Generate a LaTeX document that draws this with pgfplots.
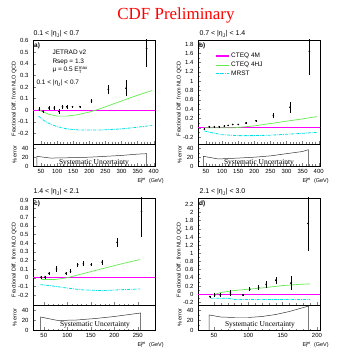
\documentclass[border=0pt]{standalone}
\usepackage{fontspec}
\setmainfont{Liberation Sans}
\newfontfamily\serif{Liberation Serif}
\usepackage{pgfplots}
\pgfplotsset{compat=1.18}

\definecolor{cteqm}{rgb}{1,0,1}
\definecolor{cteqhj}{RGB}{100,235,80}
\definecolor{mrst}{RGB}{0,225,230}

\newcommand{\tk}{\fontsize{6}{7}\selectfont}
\newcommand{\lab}{\fontsize{5.5}{6.5}\selectfont}
\newcommand{\txt}{\fontsize{6.5}{7.5}\selectfont}
\newcommand{\etaj}{|η\textsubscript{J}|}
\newcommand{\et}{E\textsuperscript{jet}\kern-0.95em\textsubscript{T}\kern0.75em{} (GeV)}

\pgfplotsset{
  cdf/.style={scale only axis, width=122bp, axis line style={line width=0.6pt},
    tick align=inside, xtick pos=left, ytick pos=left,
    major tick length=3bp, minor tick length=1.5bp,
    tick style={line width=0.4pt},
    ticklabel style={font=\tk}, /pgf/number format/assume math mode=true,
    yticklabel style={xshift=-1bp}},
  main/.style={cdf, xticklabels={}, minor y tick num=1, minor x tick num=4,
    ylabel={Fractional Diff. from NLO QCD},
    ylabel style={font=\lab, at={(axis description cs:-0.105,0.04)}, anchor=south west}},
  lower/.style={cdf, ymin=0, ymax=50, ytick={0,20,40}, minor y tick num=1, minor x tick num=4,
    ylabel={\% error},
    ylabel style={font=\lab, at={(axis description cs:-0.105,0.5)}, anchor=south},
    xlabel={\et},
    xlabel style={font=\lab, at={(axis description cs:1.1,0)}, anchor=north east, yshift=-8.5bp},
    xticklabel style={yshift=0.3bp}},
  pts/.style={black, only marks, mark=*, mark size=0.6bp, forget plot,
    error bars/.cd, y dir=both, y explicit, error mark=none,
    error bar style={line width=0.45pt}},
  m4/.style={cteqm, line width=1.2pt},
  hj/.style={cteqhj, line width=0.7pt},
  mr/.style={mrst, line width=0.8pt, dash pattern=on 3pt off 1pt on 0.8pt off 1pt},
  sys/.style={black!80, line width=0.5pt}
}

\begin{document}
\begin{tikzpicture}
\path[use as bounding box] (0bp,0bp) rectangle (337bp,354bp);

\node[anchor=base, text=red, font=\serif\fontsize{17}{19}\selectfont] at (176bp,334bp) {CDF Preliminary};

% ---------------- panel a ----------------
\begin{axis}[main, at={(33bp,210bp)}, anchor=south west, height=104bp,
  xmin=25.2, xmax=404, ymin=-0.29, ymax=0.605,
  xtick={50,100,...,400}, ytick={-0.2,-0.1,0,0.1,0.2,0.3,0.4,0.5,0.6}]
\addplot[m4] coordinates {(25.2,0) (404,0)};
\addplot[hj] coordinates {(45,0) (75,-0.035) (100,-0.05) (130,-0.05) (160,-0.04)
  (200,-0.015) (230,0.01) (260,0.04) (300,0.08) (350,0.13) (395,0.17)};
\addplot[mr] coordinates {(42,-0.05) (60,-0.09) (80,-0.12) (100,-0.14) (130,-0.16)
  (170,-0.17) (230,-0.17) (300,-0.16) (350,-0.145) (395,-0.13)};
\addplot[pts] coordinates {
  (45,0.01) +- (0,0.015) (57,-0.01) +- (0,0.015) (75,0.02) +- (0,0.02)
  (91,0.02) +- (0,0.015) (106,-0.01) +- (0,0.02) (117,0.03) +- (0,0.015)
  (130,0.03) +- (0,0.015) (148,0.03) +- (0,0.01) (171,0.03) +- (0,0.01)
  (207,0.08) +- (0,0.015) (259,0.18) +- (0,0.04) (314,0.19) +- (0,0.07)
  (378,0.53) +- (0,0.16)};
\end{axis}
\begin{axis}[lower, at={(33bp,188bp)}, anchor=south west, height=22bp,
  xmin=25.2, xmax=404, xtick={50,100,...,400}]
\addplot[sys] coordinates {(37,0) (37,22) (80,18) (150,19) (200,20) (250,22)
  (300,24) (350,27) (378,28) (378,0)};
\end{axis}

% ---------------- panel b ----------------
\begin{axis}[main, at={(198bp,210bp)}, anchor=south west, height=104bp,
  xmin=25.2, xmax=404, ymin=-0.35, ymax=1.886,
  xtick={50,100,...,400}, ytick={-0.2,0,0.2,0.4,0.6,0.8,1,1.2,1.4,1.6,1.8},
  legend style={at={(0.13,0.905)}, anchor=north west, draw=none, fill=none,
    font=\txt, row sep=-1.2pt, inner sep=1pt},
  legend cell align=left,
  legend image code/.code={\draw[#1] (0bp,0bp) -- (13bp,0bp);}]
\addplot[m4] coordinates {(25.2,0) (404,0)};
\addplot[hj] coordinates {(45,0) (100,0) (140,0) (200,0.04) (250,0.09) (300,0.14)
  (350,0.19) (395,0.24)};
\addplot[mr] coordinates {(45,-0.07) (70,-0.11) (100,-0.15) (150,-0.17) (200,-0.17)
  (250,-0.16) (300,-0.14) (350,-0.12) (395,-0.1)};
\legend{CTEQ 4M, CTEQ 4HJ, MRST}
\addplot[pts] coordinates {
  (45,-0.03) +- (0,0.02) (60,0.02) +- (0,0.015) (76,0.02) +- (0,0.015)
  (91,0.02) +- (0,0.015) (107,0.035) +- (0,0.015) (119,0.05) +- (0,0.015)
  (133,0.07) +- (0,0.015) (150,0.07) +- (0,0.015) (174,0.1) +- (0,0.02)
  (205,0.15) +- (0,0.025) (259,0.26) +- (0,0.06) (311,0.44) +- (0,0.12)
  (371,1.64) +- (0,0.5)};
\end{axis}
\begin{axis}[lower, at={(198bp,188bp)}, anchor=south west, height=22bp,
  xmin=25.2, xmax=404, xtick={50,100,...,400}]
\addplot[sys] coordinates {(42,0) (42,22) (88,16) (150,18) (200,20) (250,23)
  (300,28) (350,33) (368,37) (368,0)};
\end{axis}

% ---------------- panel c ----------------
\begin{axis}[main, at={(33bp,49bp)}, anchor=south west, height=107bp,
  xmin=27, xmax=286.6, ymin=-0.316, ymax=0.923,
  xtick={50,100,...,250}, ytick={-0.2,-0.1,0,0.1,0.2,0.3,0.4,0.5,0.6,0.7,0.8,0.9}]
\addplot[cteqm, line width=1pt] coordinates {(27,0) (286.6,0)};
\addplot[hj] coordinates {(45,-0.02) (75,-0.02) (100,0) (150,0.07) (200,0.14)
  (230,0.18) (255,0.21)};
\addplot[mr] coordinates {(43,-0.08) (75,-0.1) (100,-0.12) (130,-0.14) (175,-0.15)
  (210,-0.14) (255,-0.13)};
\addplot[pts] coordinates {
  (44,0.005) +- (0,0.015) (52,0.005) +- (0,0.015) (61,0.05) +- (0,0.02)
  (77,0.1) +- (0,0.03) (97,0.05) +- (0,0.02) (107,0.075) +- (0,0.025)
  (122,0.15) +- (0,0.025) (134,0.16) +- (0,0.03) (151,0.15) +- (0,0.02)
  (174,0.18) +- (0,0.03) (206,0.41) +- (0,0.05) (258,0.77) +- (0,0.3)};
\end{axis}
\begin{axis}[lower, at={(33bp,24bp)}, anchor=south west, height=25bp,
  xmin=27, xmax=286.6, xtick={50,100,...,250}]
\addplot[sys] coordinates {(43,0) (43,26) (80,19) (120,20) (160,23) (200,27)
  (256,34) (256,0)};
\end{axis}

% ---------------- panel d ----------------
\begin{axis}[main, at={(198bp,49bp)}, anchor=south west, height=107bp,
  xmin=26.7, xmax=204.5, ymin=-0.266, ymax=2.354,
  xtick={50,100,150,200}, ytick={-0.2,0,0.2,0.4,0.6,0.8,1,1.2,1.4,1.6,1.8,2,2.2}]
\addplot[cteqm, line width=1pt] coordinates {(26.7,0) (204.5,0)};
\addplot[hj] coordinates {(48,-0.02) (60,0.04) (80,0.09) (100,0.12) (125,0.16)
  (150,0.21) (175,0.24) (190,0.25)};
\addplot[mr] coordinates {(45,-0.1) (70,-0.1) (80,-0.13) (190,-0.13)};
\addplot[pts] coordinates {
  (44,-0.06) +- (0,0.02) (51,-0.02) +- (0,0.04) (59,-0.02) +- (0,0.04)
  (74,0.03) +- (0,0.07) (92,-0.02) +- (0,0.03) (102,0.12) +- (0,0.05)
  (115,0.16) +- (0,0.06) (126,0.24) +- (0,0.08) (140,0.34) +- (0,0.08)
  (162,0.27) +- (0,0.17) (187,1.73) +- (0,0.68)};
\end{axis}
\begin{axis}[lower, at={(198bp,24bp)}, anchor=south west, height=25bp,
  xmin=26.7, xmax=204.5, xtick={50,100,150,200}]
\addplot[sys] coordinates {(43,0) (43,30) (60,26) (80,25) (100,25) (120,27)
  (140,31) (160,37) (188,48) (188,0)};
\end{axis}

% ---------------- text ----------------
\begin{scope}[font=\fontsize{7}{8}\selectfont]
\node[anchor=base west] at (30bp,318bp) {0.1 < \etaj{} < 0.7};
\node[anchor=base west] at (196bp,318bp) {0.7 < \etaj{} < 1.4};
\node[anchor=base west] at (30bp,160bp) {1.4 < \etaj{} < 2.1};
\node[anchor=base west] at (196bp,160bp) {2.1 < \etaj{} < 3.0};
\end{scope}
\begin{scope}[font=\txt\bfseries]
\node[anchor=north west, inner sep=0pt] at (34bp,311bp) {a)};
\node[anchor=north west, inner sep=0pt] at (199bp,311bp) {b)};
\node[anchor=north west, inner sep=0pt] at (34bp,153bp) {c)};
\node[anchor=north west, inner sep=0pt] at (199bp,153bp) {d)};
\end{scope}
\begin{scope}[font=\txt]
\node[anchor=base west] at (49bp,299bp) {JETRAD v2};
\node[anchor=base west] at (49bp,290.5bp) {Rsep = 1.3};
\node[anchor=base west] at (49bp,282bp) {μ = 0.5 E\rlap{\textsubscript{T}}\textsuperscript{max}};
\node[anchor=base west] at (33bp,269bp) {0.1 < \etaj{} < 0.7};
\end{scope}
\begin{scope}[font=\serif\fontsize{7.5}{8}\selectfont]
\node at (94bp,191.5bp) {Systematic Uncertainty};
\node at (259bp,191.5bp) {Systematic Uncertainty};
\node at (95bp,29bp) {Systematic Uncertainty};
\node at (260bp,29bp) {Systematic Uncertainty};
\end{scope}
\end{tikzpicture}
\end{document}
